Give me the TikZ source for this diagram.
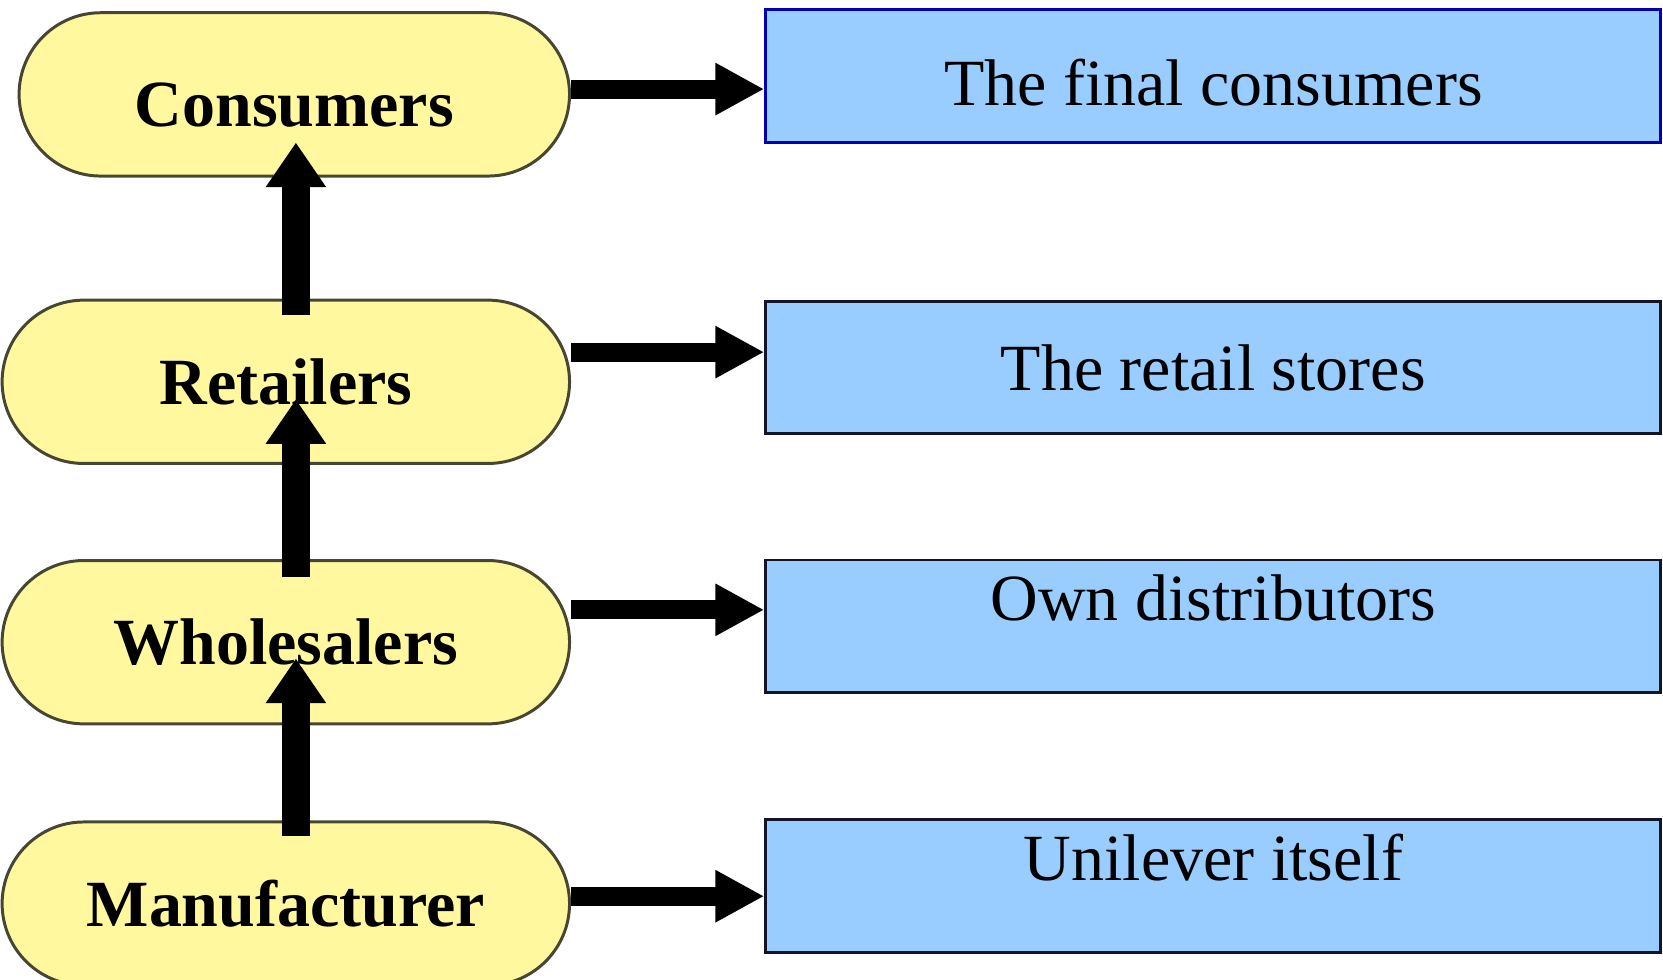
\documentclass[tikz,border=0pt]{standalone}
\usepackage{fontspec}
\setmainfont{Liberation Serif}
\usetikzlibrary{arrows.meta, positioning}

\definecolor{stageyellow}{RGB}{255,248,158}
\definecolor{stageedge}{RGB}{70,70,50}
\definecolor{boxblue}{RGB}{153,204,255}
\definecolor{boxedge}{RGB}{20,20,40}

\tikzset{
  stage/.style={draw=stageedge, line width=0.8pt, fill=stageyellow, rectangle,
    rounded corners=0.77cm, minimum height=1.54cm, inner sep=0pt,
    font=\fontsize{17.7}{20}\selectfont\bfseries},
  info/.style={draw=boxedge, line width=0.8pt, fill=boxblue, rectangle,
    minimum width=8.44cm, minimum height=1.25cm, inner sep=0pt,
    font=\fontsize{17.7}{20}\selectfont},
  raised/.style={text depth=0.55cm},
  flow/.style={line width=0.18cm, -{Triangle[width=0.46cm,length=0.46cm]}},
  upflow/.style={line width=0.26cm, -{Triangle[width=0.54cm,length=0.42cm]}}
}

\begin{document}
\begin{tikzpicture}
  \useasboundingbox (0,0) rectangle (15.68,-9.24);
  \clip (0,0) rectangle (15.68,-9.24);

  % chain of trade, bottom to top
  \node[stage, minimum width=5.19cm, text height=0.61cm] (con) at (2.775,-0.89) {Consumers};
  \node[stage, minimum width=5.35cm] (ret) at (2.695,-3.60) {Retailers};
  \node[stage, minimum width=5.35cm] (who) at (2.695,-6.055) {Wholesalers};
  \node[stage, minimum width=5.35cm] (man) at (2.695,-8.52) {Manufacturer};

  % what each stage stands for
  \node[info, draw=blue!70!black, text height=0.57cm] (fin) at (11.44,-0.715) {The final consumers};
  \node[info] (sto) at (11.44,-3.465) {The retail stores};
  \node[info, raised] (dis) at (11.44,-5.905) {Own distributors};
  \node[info, raised] (uni) at (11.44,-8.355) {Unilever itself};

  \draw[flow] (con.east |- 0,-0.84) -- (fin.west |- 0,-0.84);
  \draw[flow] (ret.east |- 0,-3.32) -- (sto.west |- 0,-3.32);
  \draw[flow] (who.east |- 0,-5.75) -- (dis.west |- 0,-5.75);
  \draw[flow] (man.east |- 0,-8.45) -- (uni.west |- 0,-8.45);

  \draw[upflow] ([yshift=-0.15cm]ret.north -| 2.79,0) -- ([yshift=0.33cm]con.south -| 2.79,0);
  \draw[upflow] ([yshift=-0.17cm]who.north -| 2.79,0) -- ([yshift=0.62cm]ret.south -| 2.79,0);
  \draw[upflow] ([yshift=-0.15cm]man.north -| 2.79,0) -- ([yshift=0.63cm]who.south -| 2.79,0);
\end{tikzpicture}
\end{document}
